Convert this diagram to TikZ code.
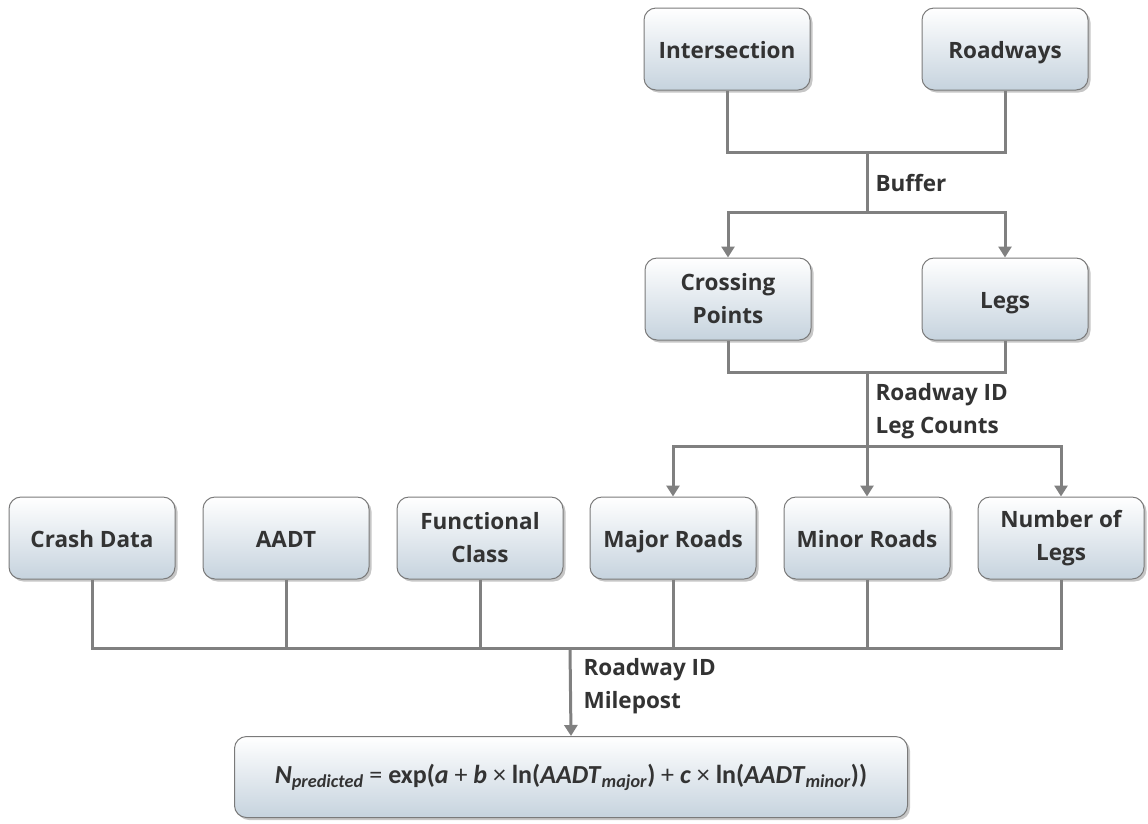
\documentclass[tikz,border=0pt]{standalone}
\usepackage{fontspec}
\setmainfont{Carlito}
\newfontfamily\nodefont{Open Sans}
\usetikzlibrary{shadows,arrows.meta}
\definecolor{txt}{HTML}{333333}
\definecolor{ln}{HTML}{808080}
\definecolor{boxline}{HTML}{7A7A7A}
\definecolor{boxbot}{HTML}{C6D3DE}
\tikzset{
  box/.style={draw=boxline, line width=1pt, rounded corners=12pt,
    top color=white, bottom color=boxbot,
    minimum width=166pt, minimum height=82pt, align=center,
    font=\nodefont\fontsize{22.5}{33}\selectfont\bfseries, text=txt,
    drop shadow={shadow xshift=2.5pt, shadow yshift=-2.5pt, opacity=0.45, fill=gray}},
  oneline/.style={text height=20pt, text depth=2pt},
  wire/.style={draw=ln, line width=3pt},
  arr/.style={wire, -{Triangle[width=13pt,length=11pt]}},
  lbl/.style={anchor=west, align=left, font=\nodefont\fontsize{22.5}{33}\selectfont\bfseries, text=txt}
}
\newcommand{\bi}[1]{\textbf{\textit{#1}}}
\begin{document}
\begin{tikzpicture}[x=1pt,y=-1pt]
\useasboundingbox (0,0) rectangle (1148,823);
% top row
\node[box,oneline] (inter) at (727,49) {Intersection};
\node[box,oneline] (road) at (1005,49) {Roadways};
% second row
\node[box] (cross) at (728,299) {Crossing\\Points};
\node[box,oneline] (legs) at (1005,299) {Legs};
% third row
\node[box,oneline] (crash) at (92,538) {Crash Data};
\node[box,oneline] (aadt) at (286,538) {AADT};
\node[box] (func) at (480,538) {Functional\\Class};
\node[box,oneline] (major) at (673,538) {Major Roads};
\node[box,oneline] (minor) at (867,538) {Minor Roads};
\node[box] (nlegs) at (1061,538) {Number of\\Legs};
% formula
\node[box, minimum width=673pt, minimum height=81pt, font=\rmfamily\fontsize{26}{30}\selectfont] (form) at (571,777)
 {\bi{N}\textsubscript{\bi{predicted}} = \textbf{exp(}\bi{a} + \bi{b} × \textbf{ln(}\bi{AADT}\textsubscript{\bi{major}}\textbf{)} + \bi{c} × \textbf{ln(}\bi{AADT}\textsubscript{\bi{minor}}\textbf{))}};
% junctions
\coordinate (j1) at (867,152);
\coordinate (j1b) at (867,212);
\coordinate (j2) at (867,372);
\coordinate (j2b) at (867,446);
\coordinate (j3) at (570,648);
% connectors
\draw[wire] (inter.south) |- (j1) -| (road.south);
\draw[wire] (j1) -- (j1b);
\draw[arr] (j1b) -| (cross.north);
\draw[arr] (j1b) -| (legs.north);
\node[lbl] (buf) at (872,183) {Buffer};
\draw[wire] (cross.south) |- (j2) -| (legs.south);
\draw[wire] (j2) -- (j2b);
\draw[arr] (j2b) -| (major.north);
\draw[arr] (j2b) -- (minor.north);
\draw[arr] (j2b) -| (nlegs.north);
\node[lbl] (rid) at (872,411) {Roadway ID\\Leg Counts};
\foreach \n in {crash,aadt,func,major,minor,nlegs}
  \draw[wire] (\n.south) |- (j3);
\draw[arr] (j3) -- (form.north);
\node[lbl] (mp) at (580,686) {Roadway ID\\Milepost};
\end{tikzpicture}
\end{document}
